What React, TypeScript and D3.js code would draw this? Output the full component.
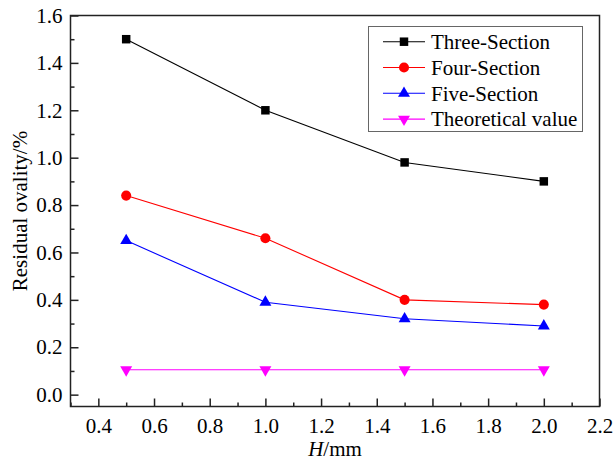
import React, { useEffect, useRef } from 'react';
import * as d3 from 'd3';

// values
const hValues = [0.5, 1.0, 1.5, 2.0];
const threeSection = [1.5, 1.2, 0.98, 0.9];
const fourSection = [0.84, 0.66, 0.4, 0.38];
const fiveSection = [0.65, 0.39, 0.32, 0.29];
const theoreticalValue = [0.105, 0.105, 0.105, 0.105];

const seriesNames = ['Three-Section', 'Four-Section', 'Five-Section', 'Theoretical value'];
const xTickValues = [0.4, 0.6, 0.8, 1.0, 1.2, 1.4, 1.6, 1.8, 2.0, 2.2];
const yTickValues = [0.0, 0.2, 0.4, 0.6, 0.8, 1.0, 1.2, 1.4, 1.6];

const FONT = '"Liberation Serif", "Times New Roman", serif';
const FS = '21px';

function App() {
  const ref = useRef<SVGSVGElement>(null);

  useEffect(() => {
    const svg = d3.select(ref.current);
    svg.selectAll('*').remove();

    const width = 613;
    const height = 462;
    const margin = { top: 15.5, right: 13.5, bottom: 55.5, left: 70.5 };
    const x0 = margin.left;
    const x1 = width - margin.right;
    const y0 = height - margin.bottom;
    const y1 = margin.top;

    const x = d3.scaleLinear().domain([0.3, 2.2]).range([x0, x1]);
    const y = d3.scaleLinear().domain([-0.05, 1.6]).range([y0, y1]);

    const axisColor = '#222';

    // minor ticks
    const xMinor = d3.range(0.3, 2.21, 0.1).filter((v) => !xTickValues.some((t) => Math.abs(t - v) < 1e-6));
    const yMinor = d3.range(0.1, 1.6, 0.2);

    const gx = svg
      .append('g')
      .attr('transform', `translate(0,${y0})`)
      .call(
        d3.axisBottom(x).tickValues(xTickValues).tickFormat(d3.format('.1f')).tickSize(-8).tickPadding(12)
      );
    gx.select('.domain').remove();
    gx.selectAll('.tick line').attr('stroke', axisColor).attr('stroke-width', 1.5);
    gx.selectAll('text').style('font-family', FONT).style('font-size', FS).attr('fill', '#000');

    const gxm = svg
      .append('g')
      .attr('transform', `translate(0,${y0})`)
      .call(d3.axisBottom(x).tickValues(xMinor).tickFormat(() => '').tickSize(-4));
    gxm.select('.domain').remove();
    gxm.selectAll('.tick line').attr('stroke', axisColor).attr('stroke-width', 1.5);

    const gy = svg
      .append('g')
      .attr('transform', `translate(${x0},0)`)
      .call(
        d3.axisLeft(y).tickValues(yTickValues).tickFormat(d3.format('.1f')).tickSize(-8).tickPadding(8)
      );
    gy.select('.domain').remove();
    gy.selectAll('.tick line').attr('stroke', axisColor).attr('stroke-width', 1.5);
    gy.selectAll('text').style('font-family', FONT).style('font-size', FS).attr('fill', '#000');

    const gym = svg
      .append('g')
      .attr('transform', `translate(${x0},0)`)
      .call(d3.axisLeft(y).tickValues(yMinor).tickFormat(() => '').tickSize(-4));
    gym.select('.domain').remove();
    gym.selectAll('.tick line').attr('stroke', axisColor).attr('stroke-width', 1.5);

    // frame
    svg
      .append('rect')
      .attr('x', x0)
      .attr('y', y1)
      .attr('width', x1 - x0)
      .attr('height', y0 - y1)
      .attr('fill', 'none')
      .attr('stroke', axisColor)
      .attr('stroke-width', 1.5);

    // axis titles
    const xt = svg
      .append('text')
      .attr('x', (x0 + x1) / 2)
      .attr('y', 456)
      .attr('text-anchor', 'middle')
      .style('font-family', FONT)
      .style('font-size', FS);
    xt.append('tspan').style('font-style', 'italic').text('H');
    xt.append('tspan').text('/mm');

    svg
      .append('text')
      .attr('transform', `translate(27,${(y0 + y1) / 2}) rotate(-90)`)
      .attr('text-anchor', 'middle')
      .style('font-family', FONT)
      .style('font-size', FS)
      .text('Residual ovality/%');

    const series = [
      { name: seriesNames[0], values: threeSection, color: '#000000', symbol: d3.symbolSquare, size: 72, rotate: 0 },
      { name: seriesNames[1], values: fourSection, color: '#ff0000', symbol: d3.symbolCircle, size: 80, rotate: 0 },
      { name: seriesNames[2], values: fiveSection, color: '#0000ff', symbol: d3.symbolTriangle, size: 62, rotate: 0 },
      { name: seriesNames[3], values: theoreticalValue, color: '#ff00ff', symbol: d3.symbolTriangle, size: 62, rotate: 180 },
    ];

    const line = d3
      .line<number>()
      .x((_, i) => x(hValues[i]))
      .y((d) => y(d));

    series.forEach((s) => {
      svg
        .append('path')
        .datum(s.values)
        .attr('d', line)
        .attr('fill', 'none')
        .attr('stroke', s.color)
        .attr('stroke-width', 1.1);

      svg
        .append('g')
        .selectAll('path')
        .data(s.values)
        .join('path')
        .attr('d', d3.symbol().type(s.symbol).size(s.size)() as string)
        .attr('transform', (d, i) => `translate(${x(hValues[i])},${y(d)}) rotate(${s.rotate})`)
        .attr('fill', s.color);
    });

    // legend
    const legend = svg.append('g');
    legend
      .append('rect')
      .attr('x', 368.5)
      .attr('y', 26.5)
      .attr('width', 214)
      .attr('height', 105)
      .attr('fill', '#fff')
      .attr('stroke', '#666')
      .attr('stroke-width', 1);

    series.forEach((s, i) => {
      const cy = 41.7 + i * 25.8;
      legend
        .append('line')
        .attr('x1', 383)
        .attr('x2', 425)
        .attr('y1', cy)
        .attr('y2', cy)
        .attr('stroke', s.color)
        .attr('stroke-width', 1.1);
      legend
        .append('path')
        .attr('d', d3.symbol().type(s.symbol).size(s.size)() as string)
        .attr('transform', `translate(404,${cy}) rotate(${s.rotate})`)
        .attr('fill', s.color);
      legend
        .append('text')
        .attr('x', 431)
        .attr('y', cy)
        .attr('dy', '0.35em')
        .style('font-family', FONT)
        .style('font-size', FS)
        .text(s.name);
    });
  }, []);

  return (
    <div style={{ position: 'absolute', left: 0, top: 0 }}>
      <svg ref={ref} width={613} height={462} style={{ display: 'block', background: '#fff' }}></svg>
    </div>
  );
}

export default App;
